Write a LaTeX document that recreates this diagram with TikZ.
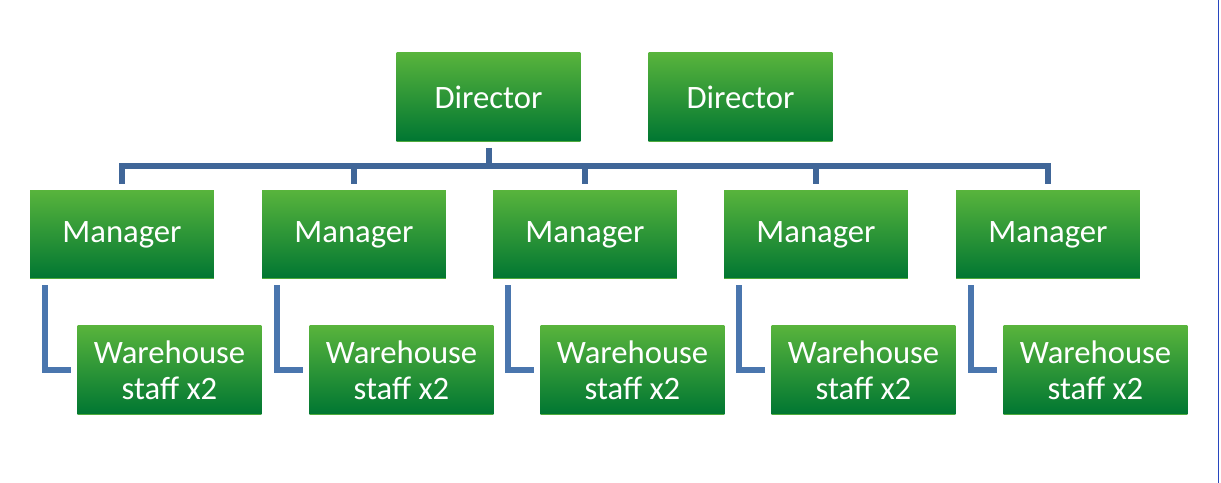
\documentclass[tikz,border=0pt]{standalone}
\usepackage{fontspec}
\setmainfont{Carlito}
\usepackage{tikz}
\usetikzlibrary{positioning}

\definecolor{boxtop}{RGB}{88,180,60}
\definecolor{boxbottom}{RGB}{0,118,50}
\definecolor{boxrim}{RGB}{80,170,60}
\definecolor{busblue}{RGB}{64,102,152}
\definecolor{legblue}{RGB}{74,118,174}
\definecolor{edgeblue}{RGB}{40,70,190}

\tikzset{
  orgbox/.style={rectangle,top color=boxtop,bottom color=boxbottom,
    minimum width=3.68cm,minimum height=1.78cm,inner sep=0pt,
    text=white,align=center,
    font=\fontsize{18.6}{20.5}\selectfont,
    path picture={\draw[boxrim,line width=0.6pt]
      (path picture bounding box.south west) -- (path picture bounding box.south east);}},
  bus/.style={draw=busblue,line width=0.12cm},
  leg/.style={draw=legblue,line width=0.12cm,shorten <=0.12cm,shorten >=0.12cm}
}

\begin{document}
\begin{tikzpicture}[x=0.02cm,y=-0.02cm]
   \useasboundingbox (0,0) rectangle (1221,483);

   \node[orgbox] (dir1) at (488.5,97) {Director};
   \node[orgbox] (dir2) at (740.5,97) {Director};

   \foreach \x[count=\xi] in {122,354,585,816,1048}{
   \node[orgbox] (m\xi) at (\x,234.5) {Manager};
   \node[orgbox] (w\xi) at (\x+47.5,370) {Warehouse\\staff x2};
   \draw[leg] ([xshift=0.3cm]m\xi.south west) |- (w\xi.west);
   }

   \coordinate (bus) at (488.5,166);
   \draw[bus,shorten <=0.12cm] (dir1.south) -- (dir1.south |- bus);
   \draw[bus,shorten <=0.12cm,shorten >=0.12cm]
     (m1.north) |- (m5.north |- bus) -- (m5.north);
   \foreach \xi in {2,3,4}{
   \draw[bus,shorten >=0.12cm] (m\xi.north |- bus) -- (m\xi.north);
   }

   %frame edge on the right
   \draw[edgeblue,line width=0.5pt] (1218.5,0) -- (1218.5,483);
\end{tikzpicture}
\end{document}
